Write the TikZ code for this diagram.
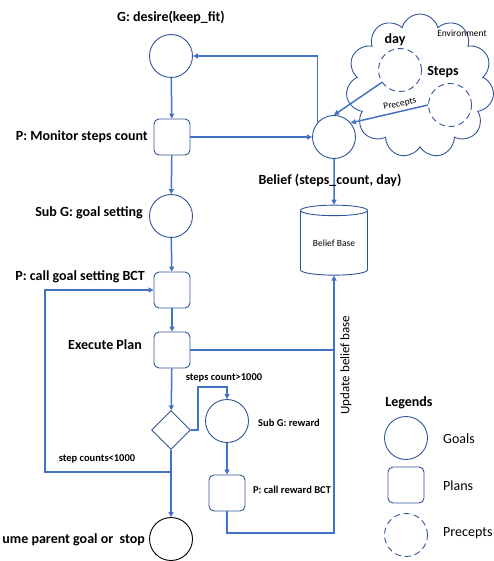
\documentclass[tikz,border=0pt]{standalone}
\usepackage{fontspec}
\setmainfont{Carlito}
\usetikzlibrary{arrows.meta,shapes.geometric,shapes.symbols}
\definecolor{lineblue}{HTML}{4472C4}
\definecolor{edgeblue}{HTML}{2F5597}

\begin{document}
\begin{tikzpicture}[x=1pt,y=-1pt,
		goal/.style={circle,draw=edgeblue,line width=0.9pt,minimum size=43pt,inner sep=0pt},
		plan/.style={rectangle,rounded corners=5pt,draw=edgeblue,line width=0.9pt,minimum size=36pt,inner sep=0pt},
		precept/.style={goal,dash pattern=on 6pt off 4pt},
		link/.style={draw=lineblue,line width=1.5pt,-{Triangle[length=5pt,width=5pt]}},
		wire/.style={draw=lineblue,line width=1.5pt},
		lbl/.style={font=\bfseries\fontsize{14}{16}\selectfont,inner sep=0pt},
		small/.style={font=\bfseries\fontsize{10.5}{12}\selectfont,inner sep=0pt},
		big/.style={font=\fontsize{14}{16}\selectfont,inner sep=0pt},
		bigbold/.style={font=\bfseries\fontsize{14}{16}\selectfont,inner sep=0pt}]
				%%%%% START %%%%%
				\useasboundingbox (0,0) rectangle (494,561);
				
				% environment
				\node[cloud,draw=edgeblue,line width=0.9pt,cloud puffs=11,cloud ignores aspect,minimum width=148pt,minimum height=144pt,inner sep=0pt] (env) at (420,86) {};
				\node[precept] (day) at (400,70) {};
				\node[precept] (steps) at (450,105) {};
				\node[font=\fontsize{9.5}{11}\selectfont,inner sep=0pt] at (462,33) {Environment};
				\node[bigbold] at (395,40) {day};
				\node[bigbold] at (443,72) {Steps};
				
				% main column
				\node[goal] (desire) at (171,56) {};
				\node[plan] (monitor) at (172,137) {};
				\node[goal] (subgoal) at (171,216) {};
				\node[plan] (callbct) at (172,290) {};
				\node[plan] (execute) at (172,350) {};
				\node[diamond,draw=edgeblue,line width=0.9pt,minimum size=39pt,inner sep=0pt] (check) at (171,430) {};
				\node[goal,draw=black] (stop) at (171,539) {};
				
				% beliefs
				\node[goal] (belief) at (334,137) {};
				\node[cylinder,shape border rotate=90,draw=edgeblue,line width=0.9pt,aspect=0.25,minimum width=67pt,minimum height=70pt,inner sep=0pt,font=\fontsize{9.5}{11}\selectfont] (base) at (334,243) {Belief Base};
				
				% reward branch
				\node[goal] (reward) at (227,421) {};
				\node[plan] (rewardbct) at (227,493) {};
				
				\coordinate (split) at (198,387);
				\coordinate (loop) at (45,472);
				\coordinate (turn) at (334,533);
				
				% labels
				\node[lbl] at (171,17) {G: desire(keep\_fit)};
				\node[lbl,anchor=east] at (148,137) {P: Monitor steps count};
				\node[lbl,anchor=east] at (143,213) {Sub G: goal setting};
				\node[lbl,anchor=east] at (145,277) {P: call goal setting BCT};
				\node[lbl,anchor=east] at (142,345) {Execute Plan};
				\node[lbl,anchor=east] at (145,540) {ume parent goal or~ stop};
				\node[small] at (224,378) {steps count>1000};
				\node[small] at (97,459) {step counts<1000};
				\node[small] at (289,423) {Sub G: reward};
				\node[small] at (292,490) {P: call reward BCT};
				\node[font=\fontsize{13}{15}\selectfont,inner sep=0pt,rotate=90] at (346,365) {Update belief base};
				\node[font=\fontsize{9.5}{11}\selectfont,inner sep=0pt,rotate=13] at (400,104) {Precepts};
				
				% connectors
				\draw[link] (desire) -- (monitor);
				\draw[link] (monitor) -- (subgoal);
				\draw[link] (subgoal) -- (callbct);
				\draw[link] (callbct) -- (execute);
				\draw[link] (execute) -- (check);
				\draw[link] (check) -- (stop);
				\draw[link] (monitor) -- (belief);
				\draw[link] (belief.138) |- (desire);
				\draw[link] (day) -- (belief.north);
				\draw[link] (steps.west) -- (belief.40);
				\draw[link] (belief) -- (base);
				\draw[link] (check.east) -| (split) -| (reward);
				\draw[link] (reward) -- (rewardbct);
				\draw[link] (rewardbct.south) |- (turn) -- (base);
				\draw[wire] (execute.east) -- (execute.east -| turn);
				\draw[link] (check.south |- loop) -- (loop) |- (callbct);
				
				% legend
				\node[bigbold] at (409,403) {Legends};
				\node[goal] (legoal) at (406,438) {};
				\node[plan] (leplan) at (406,485) {};
				\node[precept] (leprecept) at (406,535) {};
				\node[big,anchor=west] at (443,439) {Goals};
				\node[big,anchor=west] at (443,486) {Plans};
				\node[big,anchor=west] at (443,533) {Precepts};
				\node[lbl] at (330,180) {Belief (steps\_count, day)};
				%%%%% END %%%%%
\end{tikzpicture}
\end{document}
